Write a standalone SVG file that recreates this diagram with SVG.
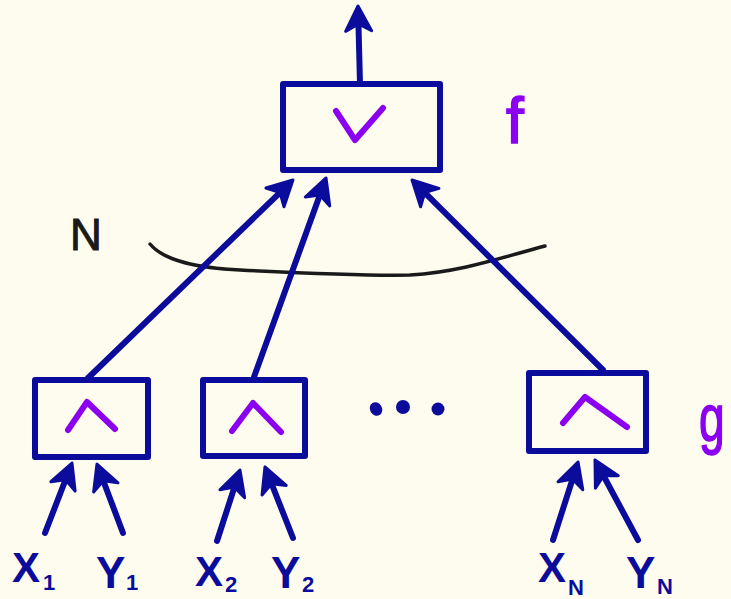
<svg xmlns="http://www.w3.org/2000/svg" width="731" height="599" viewBox="0 0 731 599">
  <defs>
    <marker id="head" markerUnits="userSpaceOnUse" viewBox="-30 -15 34 30" refX="-8" refY="0" markerWidth="34" markerHeight="30" orient="auto">
      <path d="M0,0 L-25,-13 L-18,0 L-25,13 Z" fill="#0c0c9c" stroke="#0c0c9c" stroke-width="3" stroke-linejoin="round"/>
    </marker>
  </defs>
  <style>
    .box { fill: none; stroke: #0c0c9c; stroke-width: 6; stroke-linejoin: round; }
    .op { fill: none; stroke: #8c00f2; stroke-width: 6; stroke-linecap: round; stroke-linejoin: round; }
    .edge { fill: none; stroke: #0c0c9c; stroke-width: 6; stroke-linecap: round; marker-end: url(#head); }
    .var { font-family: "Liberation Sans", Arial, sans-serif; font-weight: bold; fill: #0c0c9c; }
    .sub { font-size: 22px; }
    .tag { font-family: "Liberation Sans", Arial, sans-serif; fill: #8c00f2; stroke: #8c00f2; stroke-width: 1.5; }
  </style>

  <rect width="731" height="599" fill="#fefcef"/>

  <!-- output OR gate f -->
  <g id="node-f">
    <rect class="box" x="283" y="84" width="157" height="86"/>
    <polyline class="op" points="336,111 355,140 383,108"/>
    <text class="tag" x="506" y="143" font-size="64">f</text>
  </g>

  <!-- AND gates g -->
  <g id="node-g1">
    <rect class="box" x="35" y="380" width="113" height="77"/>
    <polyline class="op" points="68,430 87,402 115,429"/>
  </g>
  <g id="node-g2">
    <rect class="box" x="203" y="380" width="102" height="76"/>
    <polyline class="op" points="232,431 253,403 281,432"/>
  </g>
  <g id="node-gN">
    <rect class="box" x="529" y="373" width="117" height="78"/>
    <polyline class="op" points="563,423 585,397 627,427"/>
  </g>
  <g id="label-g">
    <text class="tag" font-size="66" transform="translate(699 441) scale(0.7 1)">g</text>
  </g>

  <!-- ellipsis between gates -->
  <g id="ellipsis" fill="#0c0c9c">
    <ellipse cx="376" cy="409" rx="6" ry="7" transform="rotate(-30 376 409)"/>
    <circle cx="403" cy="407" r="7"/>
    <circle cx="438" cy="409" r="6.5"/>
  </g>

  <!-- fan-in brace labelled N -->
  <g id="fan-in">
    <path d="M150,244 C165,262 200,268 240,270 C300,273 360,276 410,275 C460,272 500,258 545,246" fill="none" stroke="#1a1a1a" stroke-width="3.5" stroke-linecap="round"/>
    <text x="70" y="250" font-family="Liberation Sans, Arial, sans-serif" font-size="44" fill="#1a1a1a" stroke="#1a1a1a" stroke-width="1">N</text>
  </g>

  <!-- wires -->
  <g id="connectors">
    <line class="edge" x1="360" y1="84" x2="358.2" y2="14"/>
    <line class="edge" x1="88" y1="378" x2="287.2" y2="185.6"/>
    <line class="edge" x1="254" y1="377" x2="323.3" y2="185.5"/>
    <line class="edge" x1="603" y1="370" x2="417.7" y2="185.6"/>
    <line class="edge" x1="45" y1="533" x2="69.1" y2="470.5"/>
    <line class="edge" x1="123" y1="533" x2="99.8" y2="471.5"/>
    <line class="edge" x1="217" y1="541" x2="237.5" y2="477.6"/>
    <line class="edge" x1="293" y1="538" x2="267.9" y2="474.4"/>
    <line class="edge" x1="553" y1="540" x2="575.6" y2="469.6"/>
    <line class="edge" x1="638" y1="540" x2="598.8" y2="467"/>
  </g>

  <!-- inputs -->
  <g id="inputs">
    <text class="var" font-size="42"><tspan x="12" y="582">X</tspan><tspan class="sub" x="43" y="590">1</tspan></text>
    <text class="var" font-size="44"><tspan x="96" y="588">Y</tspan><tspan class="sub" x="126" y="590">1</tspan></text>
    <text class="var" font-size="42"><tspan x="195" y="586">X</tspan><tspan class="sub" x="225" y="592">2</tspan></text>
    <text class="var" font-size="44"><tspan x="271" y="588">Y</tspan><tspan class="sub" x="302" y="592">2</tspan></text>
    <text class="var" font-size="42"><tspan x="538" y="582">X</tspan><tspan class="sub" x="568" y="595">N</tspan></text>
    <text class="var" font-size="44"><tspan x="626" y="588">Y</tspan><tspan class="sub" x="657" y="594">N</tspan></text>
  </g>
</svg>
